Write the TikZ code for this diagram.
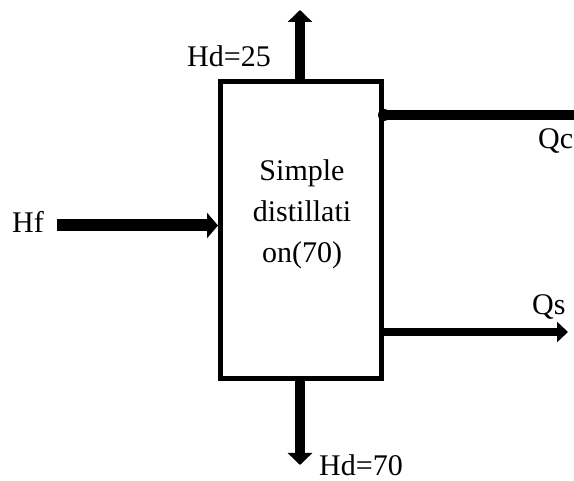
\documentclass[tikz,border=0pt]{standalone}
\usepackage{fontspec}
\setmainfont{Liberation Serif}
\usetikzlibrary{arrows.meta}
\tikzset{
	unitbox/.style={draw=black, line width=5pt, minimum width=161pt, minimum height=297pt, inner sep=0pt},
	flow/.style={black, line width=10pt, -{Triangle[length=12pt, width=24pt]}},
	stream/.style={black, line width=10pt},
	label/.style={font=\fontsize{30}{41}\selectfont, inner sep=0pt, anchor=base west},
	boxtext/.style={font=\fontsize{30}{41}\selectfont, align=center, inner sep=0pt, anchor=base},
}
\begin{document}
\begin{tikzpicture}[x=1pt, y=-1pt]
	\useasboundingbox (0,0) rectangle (574,481);
	
	% Unit
	\node[unitbox] (dist) at (301,230.5) {};
	\node[boxtext] (disttext) at (302,263) {Simple\\distillati\\on(70)};
	
	% End points of the streams
	\coordinate (hdtop) at (300,10);
	\coordinate (hdbot) at (300,465);
	\coordinate (hf) at (57,225.5);
	\coordinate (qc) at (574,115);
	\coordinate (qs) at (568,332);
	
	% Streams
	\draw[flow] (dist.north -| hdtop) -- (hdtop);
	\draw[flow] (dist.south -| hdbot) -- (hdbot);
	\draw[flow, line width=12pt, -{Triangle[length=11pt, width=25pt]}] (hf) -- (dist.west |- hf);
	\draw[stream] (dist.east |- qc) -- (qc);
	\fill (dist.east |- qc) circle (6pt);
	\draw[flow, line width=8pt, -{Triangle[length=11pt, width=20pt]}] (dist.east |- qs) -- (qs);
	
	% Labels
	\node[label] (hd25) at (187,67) {Hd=25};
	\node[label] (hd70) at (319,476) {Hd=70};
	\node[label] (hflabel) at (12,233) {Hf};
	\node[label] (qclabel) at (538,149) {Qc};
	\node[label] (qslabel) at (532,315) {Qs};
	
\end{tikzpicture}
\end{document}
